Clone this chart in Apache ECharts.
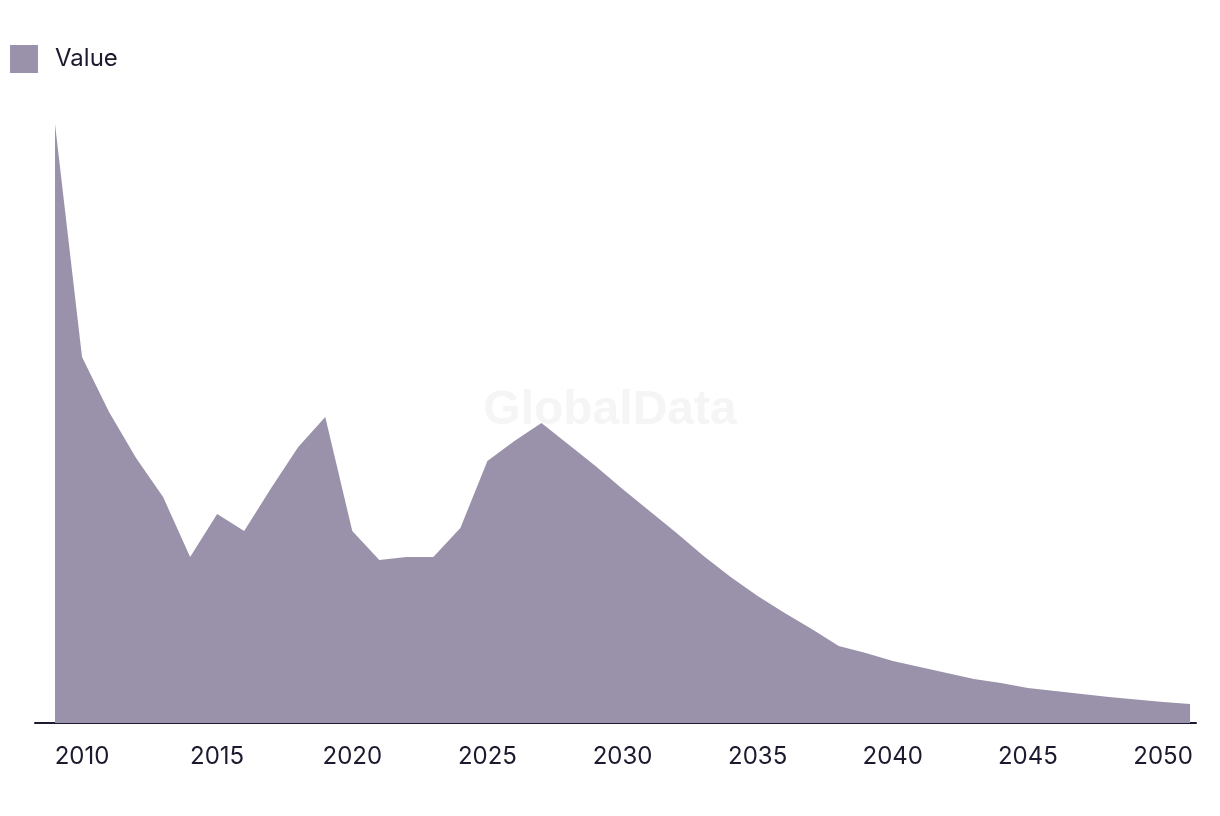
<!DOCTYPE html>
<html>
<head>
<meta charset="utf-8">
<script src="https://cdn.jsdelivr.net/npm/echarts@6/dist/echarts.min.js"></script>
<style>
html,body{margin:0;padding:0;background:#fff;}
#chart{width:1220px;height:816px;}
</style>
</head>
<body>
<div id="chart"></div>
<script>
const years = [2009,2010,2011,2012,2013,2014,2015,2016,2017,2018,2019,2020,2021,2022,2023,2024,2025,2026,2027,2028,2029,2030,2031,2032,2033,2034,2035,2036,2037,2038,2039,2040,2041,2042,2043,2044,2045,2046,2047,2048,2049,2050,2051];
const values = [599,366,311,265,226,166,209,192,235,276,306,192,163,166,166,195,262,282,300,278.5,257,234,212,190,167,146,127,110,94,77,70,62,56,50,44,40,35,32,29,26,23.6,21,19];
const tickLabels = [2010,2015,2020,2025,2030,2035,2040,2045,2050];
const seriesName = 'Value';

const chart = echarts.init(document.getElementById('chart'));
const textColor = '#1b1a2e';
chart.setOption({
  animation: false,
  backgroundColor: '#ffffff',
  graphic: [{
    type: 'text',
    left: 'center',
    top: 387,
    silent: true,
    style: {
      text: 'GlobalData',
      font: 'bold 48px "Liberation Sans", Arial, sans-serif',
      fill: '#f5f5f5'
    }
  }],
  legend: {
    left: 10,
    top: 45,
    padding: 0,
    icon: 'rect',
    itemWidth: 28,
    itemHeight: 28,
    itemGap: 10,
    data: [seriesName],
    textStyle: {
      color: textColor,
      fontSize: 24,
      fontFamily: 'Inter, sans-serif',
      padding: [0, 0, 0, 12]
    }
  },
  grid: {
    left: 35,
    right: 24,
    top: 123,
    bottom: 93,
    containLabel: false
  },
  xAxis: {
    type: 'value',
    min: 2008.26,
    max: 2051.22,
    splitLine: { show: false },
    axisTick: { show: false },
    axisLine: { show: true, onZero: false, lineStyle: { color: textColor, width: 2 } },
    axisLabel: {
      customValues: tickLabels,
      color: textColor,
      fontSize: 24,
      fontFamily: 'Inter, sans-serif',
      margin: 22,
      formatter: function (v) { return String(Math.round(v)); }
    }
  },
  yAxis: {
    type: 'value',
    min: 0,
    max: 600,
    show: false,
    splitLine: { show: false }
  },
  series: [{
    name: seriesName,
    type: 'line',
    data: years.map((y, i) => [y, values[i]]),
    symbol: 'none',
    lineStyle: { width: 0 },
    itemStyle: { color: '#9a91aa' },
    areaStyle: { color: '#9a91aa', opacity: 1 },
    z: 1
  }]
});
</script>
</body>
</html>
